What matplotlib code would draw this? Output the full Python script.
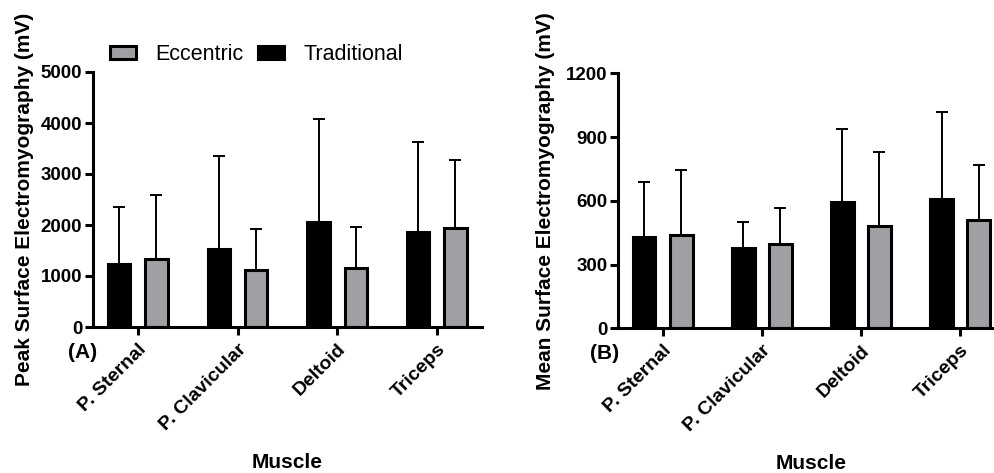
import numpy as np
import matplotlib
matplotlib.use('Agg')
import matplotlib.pyplot as plt

plt.rcParams['font.family'] = ['Liberation Sans', 'DejaVu Sans']

# data
muscles = ['P. Sternal', 'P. Clavicular', 'Deltoid', 'Triceps']

peak_trad = [1240, 1520, 2065, 1870]
peak_trad_sd = [1120, 1835, 2013, 1763]
peak_ecc = [1330, 1115, 1160, 1947]
peak_ecc_sd = [1267, 800, 795, 1321]

mean_trad = [428, 377, 595, 610]
mean_trad_sd = [262, 125, 343, 408]
mean_ecc = [437, 397, 481, 511]
mean_ecc_sd = [306, 169, 347, 257]

gray = '#a0a0a4'
lw = 2.2

fig = plt.figure(figsize=(9.95, 4.73), dpi=100)
axA = fig.add_axes([93/995, 146/473, 388.7/995, 255/473])
axB = fig.add_axes([618.3/995, 144.7/473, 386.3/995, 255/473])

x = np.arange(len(muscles))
off = 0.187
w = 0.225


def draw(ax, trad, trad_sd, ecc, ecc_sd, ymax, step, ylabel, tag, tagx):
    ax.errorbar(x - off, trad, yerr=[np.zeros(4), trad_sd], fmt='none',
                ecolor='black', elinewidth=1.4, capsize=4.3, capthick=1.4, zorder=1)
    ax.errorbar(x + off, ecc, yerr=[np.zeros(4), ecc_sd], fmt='none',
                ecolor='black', elinewidth=1.4, capsize=4.3, capthick=1.4, zorder=1)
    b1 = ax.bar(x - off, trad, w, color='black', edgecolor='black', linewidth=lw,
                label='Traditional', zorder=2)
    b2 = ax.bar(x + off, ecc, w, color=gray, edgecolor='black', linewidth=lw,
                label='Eccentric', zorder=2)
    ax.set_xlim(-0.45, 3.45)
    ax.set_ylim(0, ymax)
    ax.set_yticks(np.arange(0, ymax + 1, step))
    ax.set_xticks(x)
    ax.set_xticklabels(muscles, rotation=45, ha='right', va='top',
                       rotation_mode='anchor', fontsize=14, fontweight='bold')
    for t in ax.get_yticklabels():
        t.set_fontweight('bold')
        t.set_fontsize(13.5)
    for s in ['top', 'right']:
        ax.spines[s].set_visible(False)
    for s in ['left', 'bottom']:
        ax.spines[s].set_linewidth(lw)
    ax.tick_params(axis='both', direction='out', length=5.8, width=lw, pad=2)
    ax.tick_params(axis='x', pad=4)
    ax.set_ylabel(ylabel, fontsize=15, fontweight='bold')
    ax.set_xlabel('Muscle', fontsize=15, fontweight='bold', va='center')
    ax.text(tagx, -0.1, tag, transform=ax.transAxes, fontsize=15,
            fontweight='bold', ha='center', va='center')
    return b1, b2


b1, b2 = draw(axA, peak_trad, peak_trad_sd, peak_ecc, peak_ecc_sd, 5000, 1000,
              'Peak Surface Electromyography (mV)', '(A)', -0.028)
draw(axB, mean_trad, mean_trad_sd, mean_ecc, mean_ecc_sd, 1200, 300,
     'Mean Surface Electromyography (mV)', '(B)', -0.035)

axA.yaxis.set_label_coords(-0.152, 0.5)
axB.yaxis.set_label_coords(-0.164, 0.5)
axA.xaxis.set_label_coords(0.5, -0.53)
axB.xaxis.set_label_coords(0.5, -0.53)

axA.legend([b2, b1], ['Eccentric', 'Traditional'], ncol=2, frameon=False,
           loc='center left', bbox_to_anchor=(0.043, 1.07), fontsize=15.5,
           handlelength=1.2, handleheight=0.55, handletextpad=0.9,
           columnspacing=0.7, borderaxespad=0, borderpad=0)

fig.savefig('out.png', dpi=100)
